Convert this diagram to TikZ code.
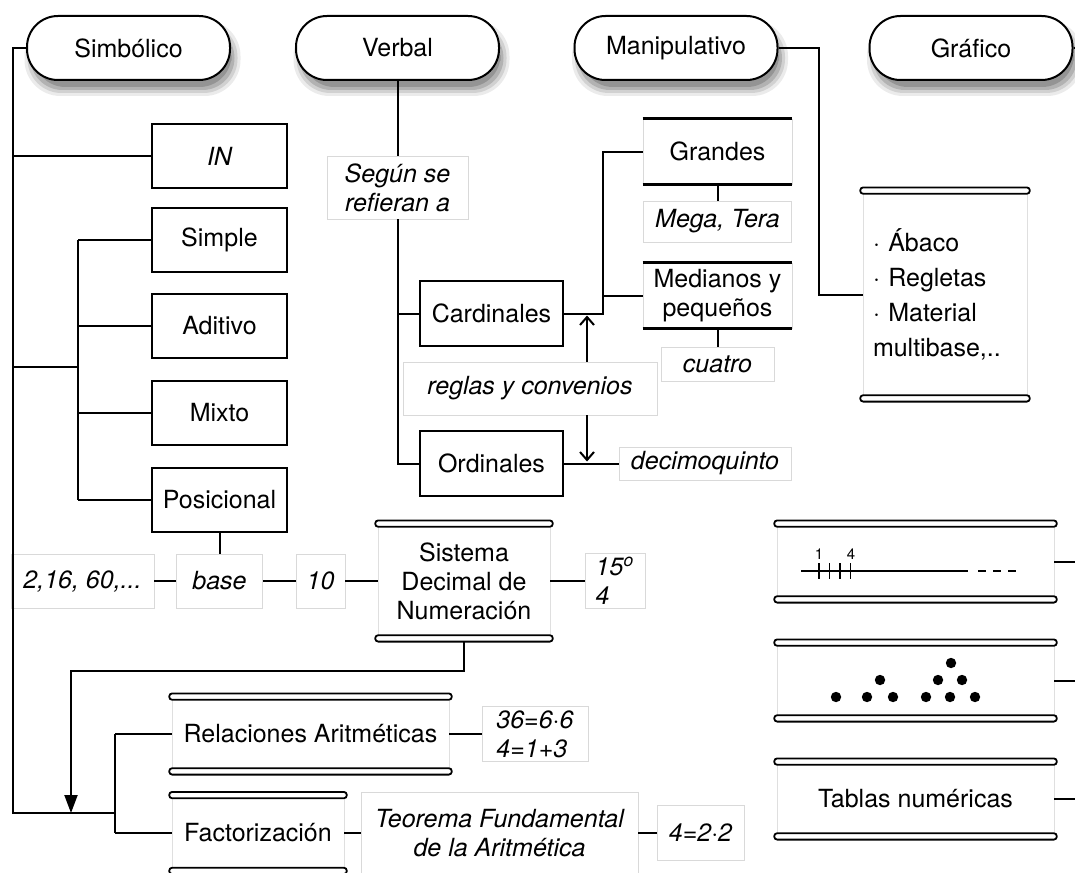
\documentclass[tikz,border=0pt]{standalone}
\usepackage{fontspec}
\setmainfont{TeX Gyre Heros}
\usetikzlibrary{arrows.meta,positioning,calc}

% scroll ends above and below a node
\newcommand{\scrollbars}[1]{%
  \draw[bar] ([xshift=-1.2pt,yshift=1.6pt]#1.north west) rectangle ([xshift=1.2pt,yshift=-1.6pt]#1.north east);
  \draw[bar] ([xshift=-1.2pt,yshift=1.6pt]#1.south west) rectangle ([xshift=1.2pt,yshift=-1.6pt]#1.south east);}
% thick rules on top and bottom of a node
\newcommand{\bandrules}[1]{%
  \draw[line width=1.2pt] (#1.north west) -- (#1.north east);
  \draw[line width=1.2pt] (#1.south west) -- (#1.south east);}

\begin{document}
\begin{tikzpicture}[x=0.5pt, y=-0.5pt,
  every node/.style={font=\fontsize{12.5}{14.5}\selectfont, inner sep=2pt},
  pill/.style={draw, line width=1pt, fill=white, rounded corners=15.5pt, minimum width=101.5pt, minimum height=32pt},
  box/.style={draw, line width=1pt, minimum width=67.5pt, minimum height=32pt, align=center},
  note/.style={draw=gray!30, line width=0.4pt, font=\fontsize{12.5}{14.5}\selectfont\itshape, align=center},
  scroll/.style={draw=gray!25, line width=0.4pt, fill=white, align=center},
  band/.style={draw=gray!30, line width=0.4pt, align=center, minimum width=74.5pt, minimum height=32.5pt},
  bar/.style={line width=0.9pt, fill=white, rounded corners=1.5pt},
  link/.style={line width=1pt},
  barb/.style={link, -{Straight Barb[length=4pt,width=7pt]}}]
  \useasboundingbox (0,0) rectangle (1075,872);

  % soft shadows under the top row
  \foreach \x in {128.5,397.5,676,971}{
    \fill[black!8, rounded corners=18pt] (\x-104,20) rectangle (\x+112,96);
    \fill[black!18, rounded corners=17pt] (\x-101,23) rectangle (\x+109,93);
    \fill[black!30, rounded corners=16pt] (\x-98,26) rectangle (\x+106,90);
    \fill[black!42, rounded corners=16pt] (\x-95,29) rectangle (\x+103,87);
  }

  % Top row
  \node[pill] (sim) at (128.5,48) {Simbólico};
  \node[pill] (verb) at (397.5,48) {Verbal};
  \node[pill] (manip) at (676,48) {Manipulativo};
  \node[pill] (graf) at (971,48) {Gráfico};

  % Simbólico
  \node[box] (in) at (219.5,156) {\itshape IN};
  \node[box] (simple) at (219.5,239.5) {Simple};
  \node[box] (adit) at (219.5,325.5) {Aditivo};
  \node[box] (mixto) at (219.5,412.5) {Mixto};
  \node[box] (posic) at (219.5,499.5) {Posicional};

  % Base row
  \node[note, minimum width=71.5pt, minimum height=27pt] (bases) at (82.5,581) {2,16, 60,...};
  \node[note, minimum width=43pt, minimum height=27pt] (base) at (219.5,581) {base};
  \node[note, minimum width=24.5pt, minimum height=27pt] (diez) at (320.5,581) {10};
  \node[scroll, minimum width=86pt, minimum height=57pt] (sdn) at (464,581) {Sistema\\Decimal de\\Numeración};
  \node[note, minimum width=30pt, minimum height=27pt, align=left] (ejsdn) at (615,581) {15\textsuperscript{o}\\4};

  % Relaciones and factorización
  \node[scroll, minimum width=138.5pt, minimum height=37pt] (rel) at (310.5,734) {Relaciones Aritméticas};
  \node[note, minimum width=53pt, minimum height=27pt, align=left] (ejrel) at (535,734) {36=6·6\\4=1+3};
  \node[scroll, minimum width=86pt, minimum height=37.5pt] (fact) at (258,833) {Factorización};
  \node[note, minimum width=138.5pt, minimum height=41pt] (tfa) at (499.5,833) {Teorema Fundamental\\de la Aritmética};
  \node[note, minimum width=43.5pt, minimum height=27.5pt] (ejtfa) at (700.5,833) {4=2·2};

  % Verbal
  \node[note, minimum width=70.5pt, minimum height=31.5pt] (segun) at (397.5,187.5) {Según se\\refieran a};
  \node[box, minimum width=71.5pt, minimum height=32.5pt] (card) at (491.5,313.5) {Cardinales};
  \node[box, minimum width=71.5pt, minimum height=32.5pt] (ord) at (491.5,463.5) {Ordinales};
  \node[band] (grand) at (717.5,151.5) {Grandes};
  \node[band] (medi) at (717.5,295.5) {Medianos y\\pequeños};
  \node[note, minimum width=74pt, minimum height=20.5pt] (mega) at (717.5,221.5) {Mega, Tera};
  \node[note, minimum width=56.5pt, minimum height=17pt] (cuatro) at (717.5,364) {cuatro};
  \node[note, minimum width=127pt, minimum height=26.5pt] (reglas) at (530,388.5) {reglas y convenios};
  \node[note, minimum width=86pt, minimum height=16.5pt] (decimo) at (705,463.5) {decimoquinto};

  % Manipulativo
  \node[scroll, align=left, text width=72pt, inner xsep=5pt, minimum height=103.5pt,
    font=\fontsize{12.5}{17.5}\selectfont] (abaco) at (945,294.5) {· Ábaco\\· Regletas\\· Material\\multibase,..};

  % Gráfico
  \node[scroll, minimum width=138.5pt, minimum height=37.5pt] (recta) at (915.5,561.5) {};
  \node[scroll, minimum width=138.5pt, minimum height=37.5pt] (puntos) at (915.5,680.5) {};
  \node[scroll, minimum width=138.5pt, minimum height=37pt] (tablas) at (915.5,799) {Tablas numéricas};

  % Number line
  \draw[line width=0.7pt] (801,571) -- (968,571);
  \draw[line width=0.7pt, dash pattern=on 4pt off 3.5pt] (978,571) -- (1022,571);
  \foreach \x in {819,829.5,840,850.5}
    \draw[line width=0.7pt] (\x,563) -- (\x,579);
  \node[font=\fontsize{7.5}{9}\selectfont, inner sep=0pt] (uno) at (819,554) {1};
  \node[font=\fontsize{7.5}{9}\selectfont, inner sep=0pt] (cuatroN) at (851,554) {4};

  % Dots
  \foreach \x/\y in {836/697, 867/697, 893/697, 926/697, 950/697, 975/697, 880/680, 938/680, 962/680, 951/663}
    \fill (\x,\y) circle (2.6pt);

  % Connectors, Simbólico
  \coordinate (trunkend) at (13,813);
  \coordinate (forkA) at (78,367);
  \coordinate (forkB) at (115,813);
  \coordinate (bend) at (71,671);
  \draw[link] (sim.west) -| (trunkend) -- (forkB);
  \draw[link] (in.west) -- (in.west -| trunkend);
  \draw[link] (forkA -| trunkend) -- (forkA);
  \draw[link] (simple.west -| forkA) -- (posic.west -| forkA);
  \foreach \n in {simple,adit,mixto,posic}
    \draw[link] (\n.west) -- (\n.west -| forkA);
  \draw[link] (posic.south) -- (posic.south |- base.north);
  \draw[link] (bases) -- (base);
  \draw[link] (base) -- (diez);
  \draw[link] (diez) -- (sdn);
  \draw[link] (sdn) -- (ejsdn);
  \draw[link, -{Triangle[length=9pt,width=6.5pt]}] (sdn.south) |- (bend) -- (bend |- forkB);
  \draw[link] (rel.west -| forkB) -- (fact.west -| forkB);
  \draw[link] (rel.west) -- (rel.west -| forkB);
  \draw[link] (fact.west) -- (fact.west -| forkB);
  \draw[link] (rel) -- (ejrel);
  \draw[link] (fact) -- (tfa);
  \draw[link] (tfa) -- (ejtfa);

  % Connectors, Verbal
  \coordinate (cx) at (603,0);
  \coordinate (rx) at (587,0);
  \draw[link] (verb) -- (segun);
  \draw[link] (segun.south) |- (ord.west);
  \draw[link] (segun.south |- card.west) -- (card.west);
  \draw[link] (card.east) -- (card.east -| cx) |- (grand.west);
  \draw[link] (medi.west -| cx) -- (medi.west);
  \draw[link] (grand) -- (mega);
  \draw[link] (medi) -- (cuatro);
  \draw[barb] (reglas.north -| rx) -- ([yshift=-1pt]card.east -| rx);
  \draw[barb] (reglas.south -| rx) -- ([yshift=1pt]ord.east -| rx);
  \draw[link] (ord) -- (decimo);

  % Connectors, Manipulativo and Gráfico
  \coordinate (mx) at (819,0);
  \coordinate (edge) at (1075,0);
  \draw[link] (manip.east) -| (abaco.west -| mx) -- (abaco.west);
  \draw[link] (graf.east) -- (graf.east -| edge);
  \foreach \n in {recta,puntos,tablas}
    \draw[link] (\n.east) -- (\n.east -| edge);

  % Scroll ends and rules
  \foreach \n in {sdn,rel,fact,abaco,recta,puntos,tablas}
    \scrollbars{\n};
  \bandrules{grand}
  \bandrules{medi}
\end{tikzpicture}
\end{document}
